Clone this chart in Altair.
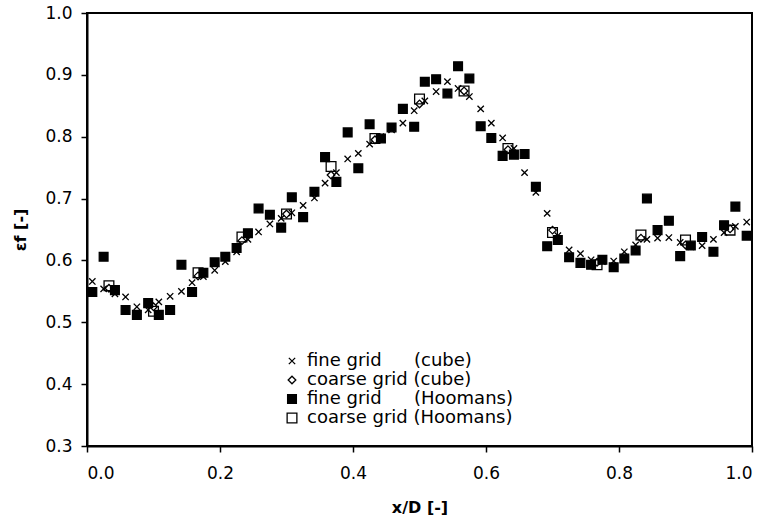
import altair as alt
import pandas as pd

# x positions (x/D)
x_fine = [0.008, 0.025, 0.042, 0.058, 0.075, 0.092, 0.108, 0.125, 0.142, 0.158,
          0.175, 0.192, 0.208, 0.225, 0.242, 0.258, 0.275, 0.292, 0.308, 0.325,
          0.342, 0.358, 0.375, 0.392, 0.408, 0.425, 0.442, 0.458, 0.475, 0.492,
          0.508, 0.525, 0.542, 0.558, 0.575, 0.592, 0.608, 0.625, 0.642, 0.658,
          0.675, 0.692, 0.708, 0.725, 0.742, 0.758, 0.775, 0.792, 0.808, 0.825,
          0.842, 0.858, 0.875, 0.892, 0.908, 0.925, 0.942, 0.958, 0.975, 0.992]
x_coarse = [0.033, 0.100, 0.167, 0.233, 0.300, 0.367, 0.433, 0.500, 0.567, 0.633,
            0.700, 0.767, 0.833, 0.900, 0.967]

# epsilon_f values
fine_cube = [0.566, 0.554, 0.546, 0.541, 0.525, 0.520, 0.533, 0.542, 0.550, 0.564,
             0.574, 0.584, 0.598, 0.614, 0.634, 0.646, 0.659, 0.668, 0.677, 0.689,
             0.701, 0.725, 0.742, 0.764, 0.773, 0.788, 0.800, 0.811, 0.822, 0.842,
             0.858, 0.873, 0.889, 0.878, 0.865, 0.845, 0.822, 0.798, 0.781, 0.742,
             0.710, 0.676, 0.640, 0.617, 0.611, 0.601, 0.598, 0.599, 0.614, 0.625,
             0.634, 0.636, 0.637, 0.629, 0.622, 0.624, 0.634, 0.645, 0.655, 0.662]
coarse_cube = [0.555, 0.525, 0.575, 0.632, 0.675, 0.738, 0.795, 0.853, 0.874, 0.779,
               0.649, 0.597, 0.636, 0.625, 0.651]
fine_hoomans = [0.549, 0.606, 0.552, 0.520, 0.512, 0.531, 0.512, 0.520, 0.593, 0.549,
                0.580, 0.597, 0.606, 0.620, 0.644, 0.684, 0.674, 0.653, 0.702, 0.670,
                0.711, 0.767, 0.727, 0.807, 0.749, 0.820, 0.797, 0.815, 0.845, 0.816,
                0.889, 0.893, 0.870, 0.914, 0.894, 0.817, 0.798, 0.769, 0.771, 0.772,
                0.719, 0.623, 0.633, 0.605, 0.596, 0.593, 0.601, 0.589, 0.603, 0.616,
                0.700, 0.649, 0.664, 0.607, 0.624, 0.638, 0.614, 0.657, 0.687, 0.640]
coarse_hoomans = [0.559, 0.518, 0.580, 0.638, 0.675, 0.752, 0.797, 0.861, 0.874, 0.781,
                  0.645, 0.593, 0.641, 0.633, 0.649]

NB = "\u00a0"
series = [
    "fine grid" + NB * 5 + "\u2009(cube)",
    "coarse grid (cube)",
    "fine grid" + NB * 5 + "\u2009(Hoomans)",
    "coarse grid (Hoomans)",
]
x_ticks = [0.0, 0.2, 0.4, 0.6, 0.8, 1.0]
y_ticks = [0.3, 0.4, 0.5, 0.6, 0.7, 0.8, 0.9, 1.0]

rows = []
for xs, ys, name in [(x_fine, fine_cube, series[0]), (x_coarse, coarse_cube, series[1]),
                     (x_fine, fine_hoomans, series[2]), (x_coarse, coarse_hoomans, series[3])]:
    for a, b in zip(xs, ys):
        rows.append({"x": a, "y": b, "series": name})
df = pd.DataFrame(rows)

shapes = ["M-1,-1L1,1M-1,1L1,-1", "diamond", "square", "square"]
fills = ["transparent", "transparent", "black", "transparent"]
strokes = ["black", "black", "black", "black"]
sizes = [40, 95, 40, 160]

FONT = "DejaVu Sans"
leg = alt.Legend(
    orient="none", legendX=196, legendY=339, title=None,
    labelFont=FONT, labelFontSize=18, labelColor="black", labelLimit=400,
    symbolStrokeWidth=1.3, rowPadding=1, labelOffset=6, padding=0,
)

chart = alt.Chart(df).mark_point(filled=True, strokeWidth=1.3, opacity=1).encode(
    x=alt.X("x:Q", scale=alt.Scale(domain=[0, 1], nice=False, zero=False),
            axis=alt.Axis(values=x_ticks, format=".1f", title="x/D [-]")),
    y=alt.Y("y:Q", scale=alt.Scale(domain=[0.3, 1.0], nice=False, zero=False),
            axis=alt.Axis(values=y_ticks, format=".1f", title="εf [-]")),
    shape=alt.Shape("series:N", scale=alt.Scale(domain=series, range=shapes), legend=leg),
    fill=alt.Fill("series:N", scale=alt.Scale(domain=series, range=fills), legend=leg),
    stroke=alt.Stroke("series:N", scale=alt.Scale(domain=series, range=strokes), legend=leg),
    size=alt.Size("series:N", scale=alt.Scale(domain=series, range=sizes), legend=leg),
).properties(
    width=665, height=433,
    autosize=alt.AutoSizeParams(type="none"),
    padding={"left": 87, "top": 13, "right": 16, "bottom": 80},
).configure_view(
    stroke="black", strokeWidth=2,
).configure_axis(
    grid=False, domainColor="black", domainWidth=2, tickColor="black", tickWidth=1.5,
    tickSize=6, labelFont=FONT, labelFontSize=17, labelColor="black",
    titleFont=FONT, titleFontSize=16, titleFontWeight="bold", titleColor="black",
).configure_axisX(
    labelPadding=13, titlePadding=18,
).configure_axisY(
    labelPadding=9, titlePadding=16,
)

chart.save("out.html", embed_options={"renderer": "svg", "actions": False})
